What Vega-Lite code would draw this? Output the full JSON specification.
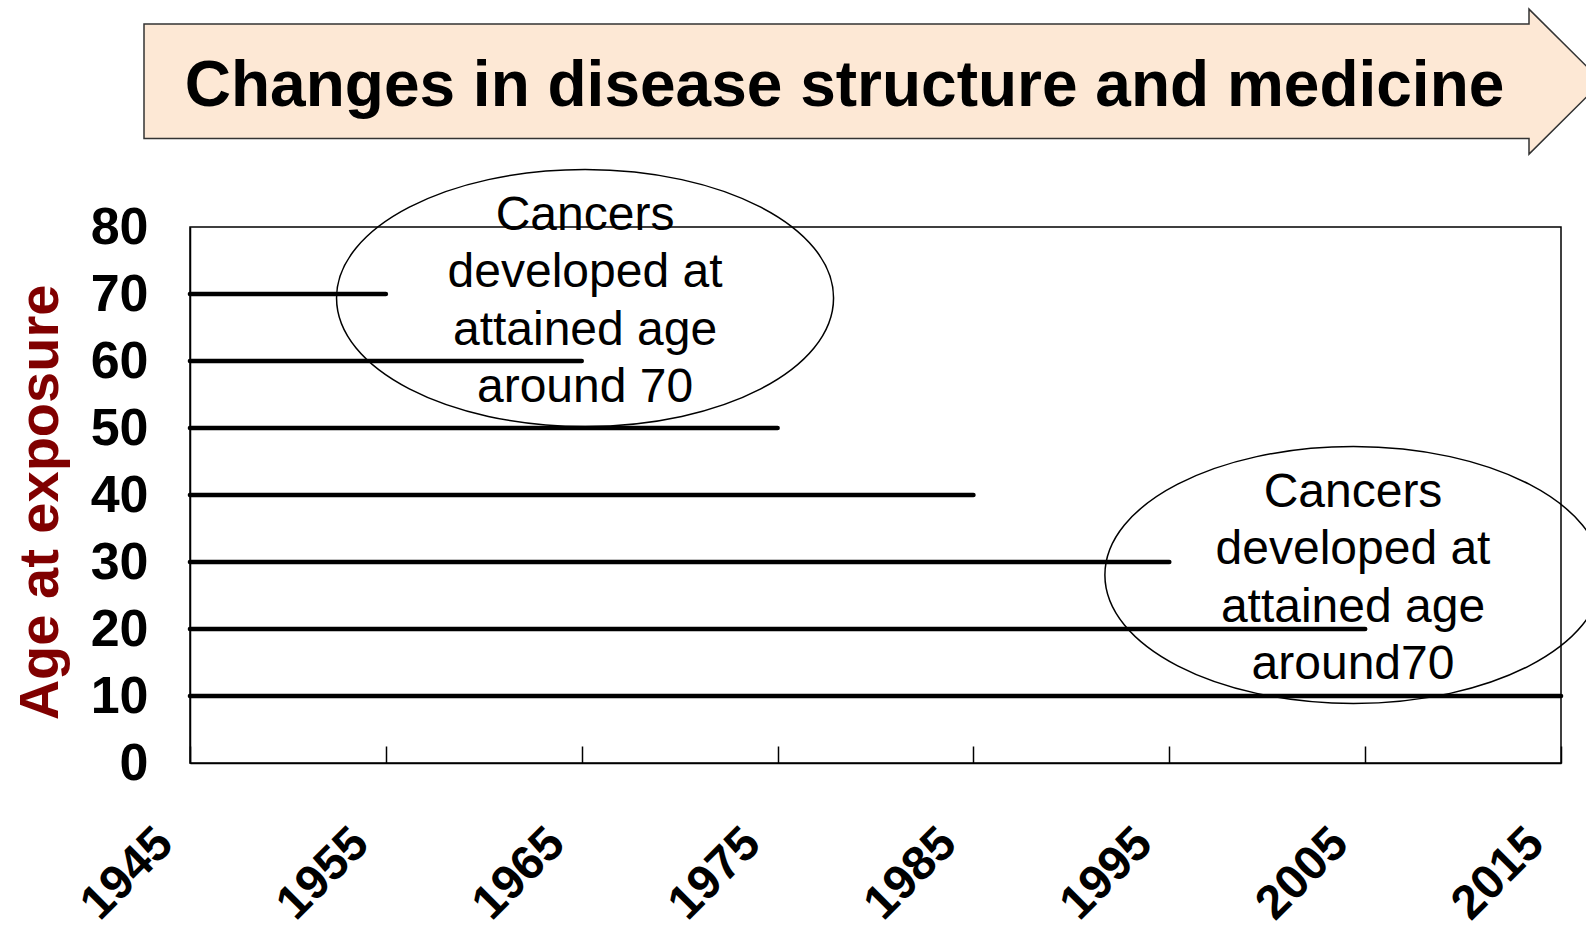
{
  "$schema": "https://vega.github.io/schema/vega-lite/v6.json",
  "width": 1371,
  "height": 536,
  "autosize": {"type": "none"},
  "padding": {"left": 190, "top": 227, "right": 25, "bottom": 170},
  "background": "white",
  "config": {
    "view": {"stroke": "black", "strokeWidth": 1.5},
    "font": "Liberation Sans",
    "axis": {"grid": false, "domainColor": "black", "domainWidth": 1.5, "tickColor": "black", "tickWidth": 1.5}
  },
  "encoding": {
    "x": {
      "field": "year", "type": "quantitative",
      "scale": {"domain": [1945, 2015], "nice": false, "zero": false},
      "axis": {
        "title": null,
        "values": [1945, 1955, 1965, 1975, 1985, 1995, 2005, 2015],
        "format": "d",
        "labelAngle": -45,
        "labelAlign": "right",
        "labelBaseline": "top",
        "labelFont": "Liberation Sans",
        "labelFontSize": 48,
        "labelFontWeight": "bold",
        "labelColor": "black",
        "labelOffset": -42,
        "tickSize": -17,
        "labelPadding": 73,
        "labelOverlap": false,
        "labelFlush": false
      }
    },
    "y": {
      "field": "age", "type": "quantitative",
      "scale": {"domain": [0, 80], "nice": false, "zero": false},
      "axis": {
        "title": "Age at exposure",
        "values": [0, 10, 20, 30, 40, 50, 60, 70, 80],
        "tickSize": 0,
        "labelPadding": 42,
        "labelFont": "Liberation Sans",
        "labelFontSize": 52,
        "labelFontWeight": "bold",
        "labelColor": "black",
        "labelOverlap": false,
        "labelFlush": false,
        "titleFont": "Liberation Sans",
        "titleFontSize": 56,
        "titleFontWeight": "bold",
        "titleColor": "#800000",
        "titlePadding": 21,
        "titleY": 275
      }
    }
  },
  "layer": [
    {
      "data": {"values": [{"year": 1945, "age": 101.7}]},
      "mark": {
        "type": "point",
        "shape": "M -46 -57.5 L 1339 -57.5 L 1339 -72.5 L 1412 0 L 1339 72.5 L 1339 57 L -46 57 Z",
        "size": 4,
        "filled": true,
        "fill": "#FDE8D5",
        "stroke": "#333333",
        "strokeWidth": 1.5,
        "opacity": 1
      }
    },
    {
      "data": {"values": [{"year": 1978.42, "age": 98.06, "label": "Changes in disease structure and medicine"}]},
      "mark": {"type": "text", "align": "center", "baseline": "alphabetic", "font": "Liberation Sans", "fontSize": 64, "fontWeight": "bold", "color": "black"},
      "encoding": {"text": {"field": "label", "type": "nominal"}}
    },
    {
      "data": {"values": [
        {"year": 1945, "end": 1955, "age": 70},
        {"year": 1945, "end": 1965, "age": 60},
        {"year": 1945, "end": 1975, "age": 50},
        {"year": 1945, "end": 1985, "age": 40},
        {"year": 1945, "end": 1995, "age": 30},
        {"year": 1945, "end": 2005, "age": 20},
        {"year": 1945, "end": 2015, "age": 10}
      ]},
      "mark": {"type": "rule", "color": "black", "strokeWidth": 4.6, "strokeCap": "round"},
      "encoding": {"x2": {"field": "end"}}
    },
    {
      "data": {"values": [
        {"year": 1965.17, "age": 69.4},
        {"year": 2004.4, "age": 28.06}
      ]},
      "mark": {
        "type": "point",
        "shape": "M -1 0 A 1 0.517 0 1 1 1 0 A 1 0.517 0 1 1 -1 0 Z",
        "size": 247009,
        "filled": false,
        "fill": null,
        "stroke": "black",
        "strokeWidth": 1.5,
        "opacity": 1
      }
    },
    {
      "data": {"values": [
        {"year": 1965.17, "age": 79.61, "label": ["Cancers", "developed at", "attained age", "around 70"]},
        {"year": 2004.38, "age": 38.24, "label": ["Cancers", "developed at", "attained age", "around70"]}
      ]},
      "mark": {"type": "text", "align": "center", "baseline": "alphabetic", "font": "Liberation Sans", "fontSize": 48, "lineHeight": 57.5, "color": "black"},
      "encoding": {"text": {"field": "label", "type": "nominal"}}
    }
  ]
}
